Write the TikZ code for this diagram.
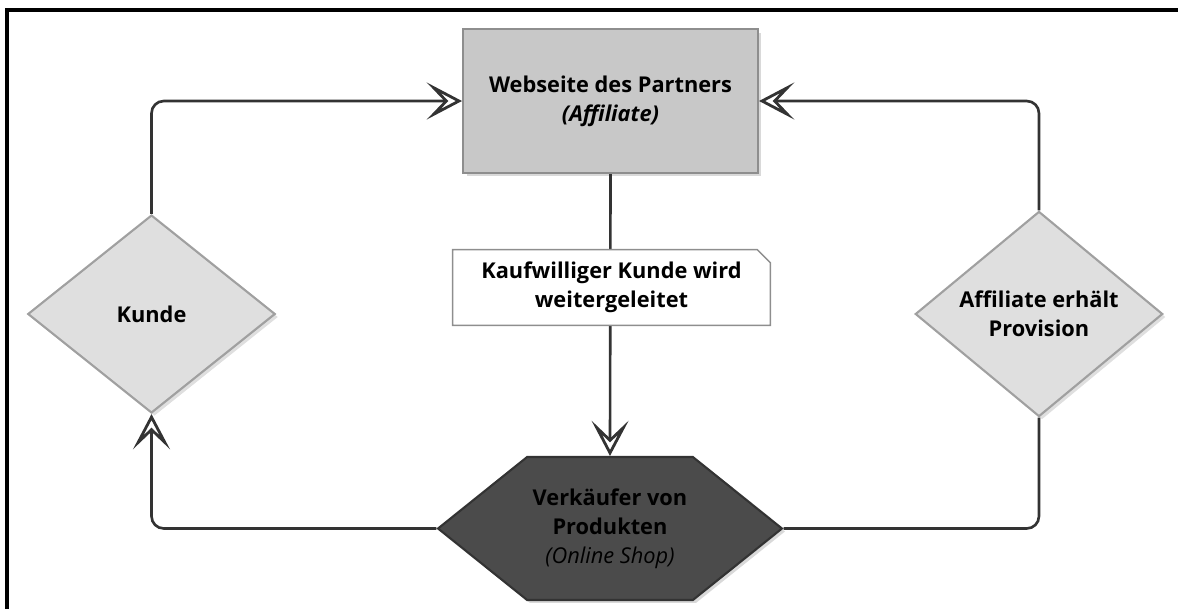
\documentclass[tikz,border=0pt]{standalone}
\usepackage{fontspec}
\setmainfont{Open Sans}
\usepackage{xcolor}
\usepackage{tikz}
\usetikzlibrary{positioning,calc,shapes.geometric,shapes.symbols,shadows}
\usetikzlibrary{arrows.meta}

\definecolor{linegray}{HTML}{333333}
\definecolor{boxfill}{HTML}{C8C8C8}
\definecolor{boxline}{HTML}{8E8E8E}
\definecolor{diafill}{HTML}{DFDFDF}
\definecolor{dialine}{HTML}{A0A0A0}
\definecolor{shopfill}{HTML}{4B4B4B}
\definecolor{shopline}{HTML}{333333}

\begin{document}
\begin{tikzpicture}[x=0.02cm,y=-0.02cm,
  every node/.style={font=\bfseries\fontsize{12.4}{16.5}\selectfont,align=center,text=black},
  partnerbox/.style={rectangle,draw=boxline,fill=boxfill,line width=1.2pt,minimum width=5.9cm,minimum height=2.88cm,
    drop shadow={opacity=0.3,shadow xshift=0.07cm,shadow yshift=-0.07cm}},
  decision/.style={diamond,draw=dialine,fill=diafill,line width=1.2pt,minimum width=4.95cm,minimum height=3.96cm,inner sep=0pt,
    drop shadow={opacity=0.25,shadow xshift=0.06cm,shadow yshift=-0.06cm}},
  shopbox/.style={signal,signal to=east and west,signal pointer angle=77.5,draw=shopline,fill=shopfill,line width=1.2pt,
    minimum width=6.88cm,minimum height=2.86cm,inner sep=0pt,
    drop shadow={opacity=0.3,shadow xshift=0.06cm,shadow yshift=-0.06cm}},
  notebox/.style={rectangle,fill=white,minimum width=6.34cm,minimum height=1.5cm,inner sep=0pt},
  notefold/.style={draw=boxline,line width=0.8pt},
  flow/.style={draw=linegray,line width=1.5pt,rounded corners=7pt},
  barb/.style={-{Stealth[open,length=20pt,width=21pt,inset=10pt,line width=1.6pt]}}]

  \useasboundingbox (0,0) rectangle (1178,609);
  \draw[line width=1.8pt] (1178,10) -- (7,10) -- (7,609);

  \node[partnerbox] (partner) at (610.5,101) {Webseite des Partners\\\textit{(Affiliate)}};
  \node[shopbox] (shop) at (610,528.5) {Verkäufer von\\Produkten\\\textmd{\textit{(Online Shop)}}};
  \node[decision] (kunde) at (151.5,314) {Kunde};
  \node[decision] (provision) at (1039,314) {Affiliate erhält\\Provision};

  \draw[flow,barb] (partner.south) -- (shop.north);
  \draw[flow,barb] (kunde.north) |- (partner.west);
  \draw[flow,barb] (shop.west) -| (kunde.south);
  \draw[flow] (shop.east) -| (provision.south);
  \draw[flow,barb] (provision.north) |- (partner.east);

  \node[notebox] (redirect) at (611.5,287.5) {Kaufwilliger Kunde wird\\weitergeleitet};
  \draw[notefold] (redirect.south west) -- (redirect.north west) -- ([xshift=-0.26cm]redirect.north east)
    -- ([yshift=-0.26cm]redirect.north east) -- (redirect.south east) -- cycle;
\end{tikzpicture}
\end{document}
